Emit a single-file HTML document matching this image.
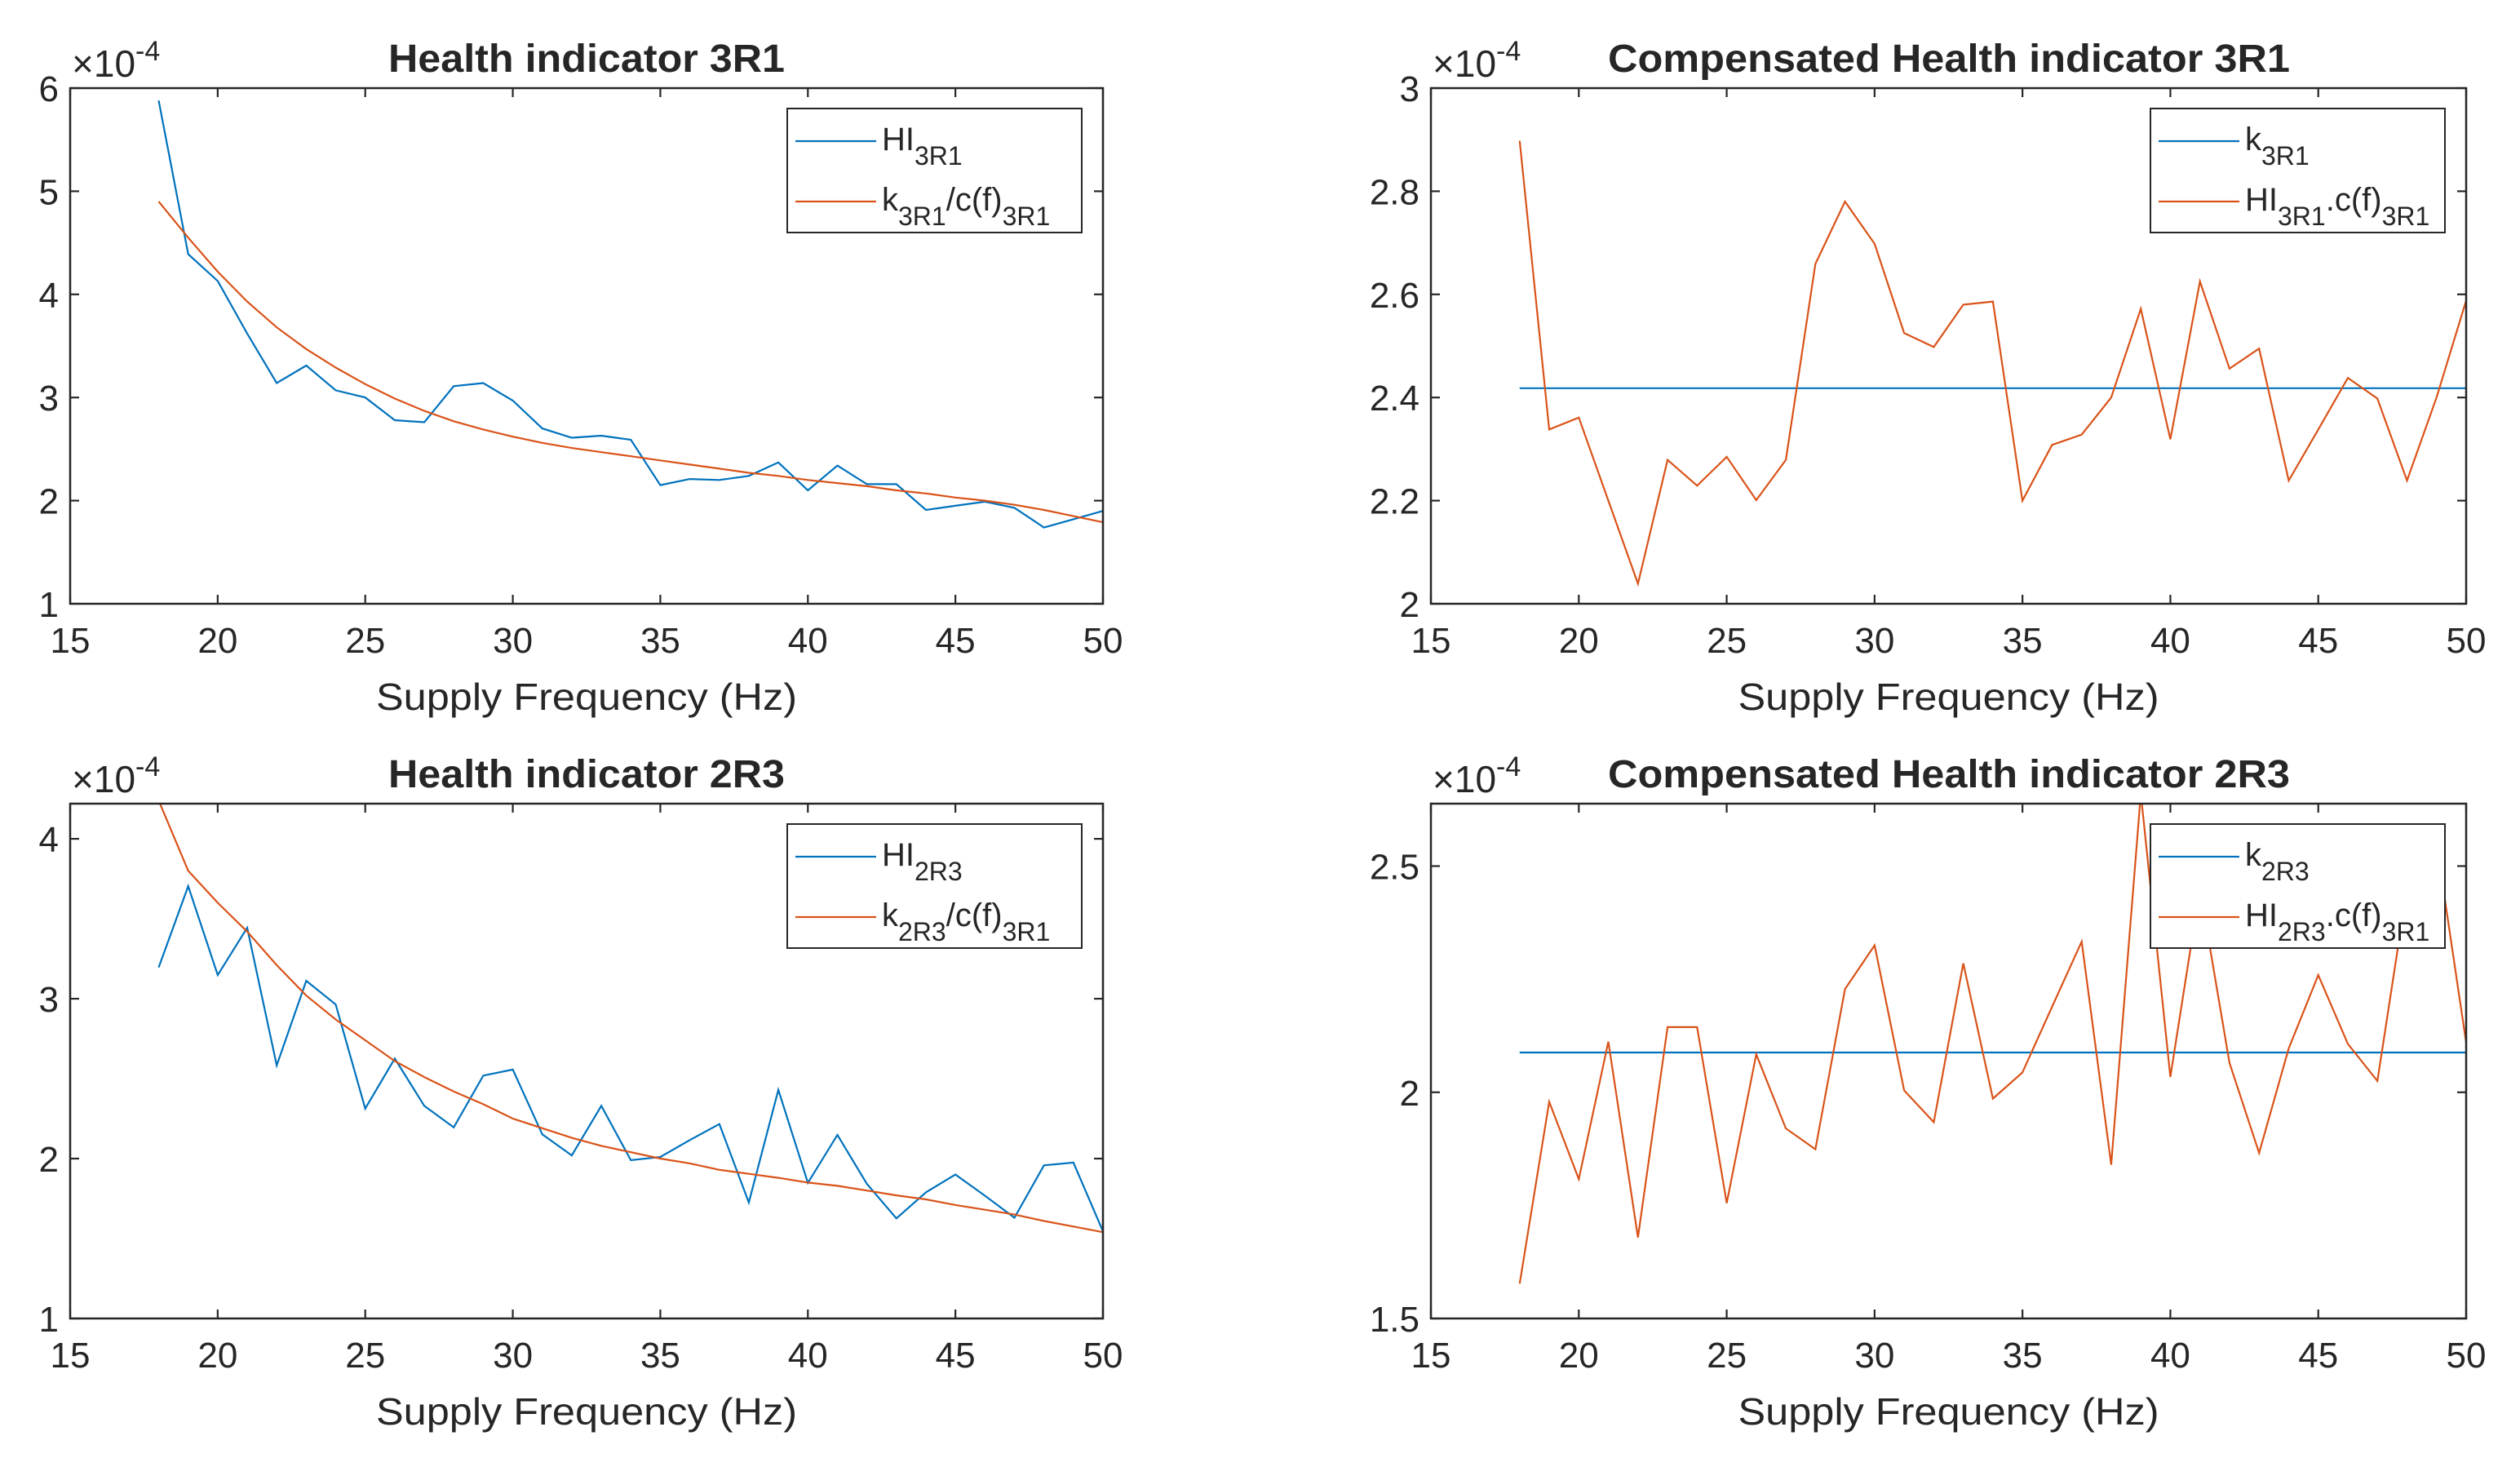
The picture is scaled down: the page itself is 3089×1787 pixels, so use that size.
<!DOCTYPE html>
<html><head><meta charset="utf-8">
<style>
html,body{margin:0;padding:0;background:#fff;}
svg{display:block;}
text{font-family:"Liberation Sans",Arial,sans-serif;fill:#262626;}
</style></head>
<body>
<svg id="fig" width="3089" height="1787" viewBox="0 0 3089 1787" xmlns="http://www.w3.org/2000/svg">
<rect width="3089" height="1787" fill="#fff"/>
</svg>
<script>
const freq = [18,19,20,21,22,23,24,25,26,27,28,29,30,31,32,33,34,35,36,37,38,39,40,41,42,43,44,45,46,47,48,49,50];
const hi3R1 = [5.88,4.39,4.13,3.62,3.14,3.31,3.07,3.0,2.78,2.76,3.11,3.14,2.97,2.70,2.61,2.63,2.59,2.15,2.21,2.20,2.24,2.37,2.10,2.34,2.16,2.16,1.91,1.95,1.99,1.93,1.74,1.82,1.90];
const fit3R1 = [4.90,4.55,4.22,3.93,3.68,3.47,3.29,3.13,2.99,2.87,2.77,2.69,2.62,2.56,2.51,2.47,2.43,2.39,2.35,2.31,2.27,2.24,2.20,2.17,2.14,2.10,2.07,2.03,2.00,1.96,1.91,1.85,1.79];
const k3R1 = 2.418;
const comp3R1 = [2.898,2.338,2.361,2.20,2.039,2.279,2.229,2.285,2.201,2.279,2.659,2.78,2.698,2.525,2.498,2.58,2.586,2.20,2.308,2.328,2.40,2.572,2.319,2.625,2.456,2.495,2.239,2.338,2.438,2.398,2.239,2.40,2.588];
const hi2R3 = [3.196,3.704,3.148,3.444,2.583,3.112,2.964,2.313,2.626,2.33,2.195,2.519,2.557,2.152,2.02,2.33,1.99,2.01,2.116,2.216,1.725,2.43,1.848,2.148,1.842,1.626,1.789,1.90,1.768,1.63,1.958,1.975,1.545];
const fit2R3 = [4.24,3.80,3.60,3.42,3.21,3.02,2.87,2.74,2.61,2.51,2.42,2.34,2.25,2.19,2.13,2.08,2.04,2.00,1.97,1.93,1.905,1.88,1.85,1.83,1.80,1.77,1.745,1.71,1.68,1.65,1.61,1.575,1.54];
const k2R3 = 2.088;
const comp2R3 = [1.577,1.979,1.808,2.112,1.679,2.144,2.144,1.755,2.084,1.92,1.874,2.228,2.325,2.004,1.934,2.285,1.986,2.044,2.189,2.333,1.84,2.66,2.034,2.45,2.065,1.866,2.097,2.259,2.107,2.025,2.45,2.55,2.11];
const xTicks = [15,20,25,30,35,40,45,50];
const yTicksA = [1,2,3,4,5,6];
const yTicksB = [2,2.2,2.4,2.6,2.8,3];
const yTicksC = [1,2,3,4];
const yTicksD = [1.5,2,2.5];

const NS='http://www.w3.org/2000/svg';
const svg=document.getElementById('fig');
const BLUE='#0072BD', ORANGE='#D95319';
function mk(tag,attrs,parent){const e=document.createElementNS(NS,tag);for(const k in attrs)e.setAttribute(k,attrs[k]);(parent||svg).appendChild(e);return e;}

function richText(parent,x,y,parts,size,subSize){
  const t=mk('text',{x:x,y:y,'font-size':size},parent);
  parts.forEach(p=>{
    const ts=mk('tspan',{y:p[1]?y+18:y},t);
    if(p[1]) ts.setAttribute('font-size',subSize);
    ts.textContent=p[0];
  });
  return t;
}

function panel(o){
  const g=mk('g',{});
  
  
  const sx=v=>o.x0+(v-15)/(50-15)*(o.x1-o.x0);
  const sy=v=>o.y1-(v-o.ymin)/(o.ymax-o.ymin)*(o.y1-o.y0);
  const clip='clip-'+o.name;
  const cp=mk('clipPath',{id:clip},g);
  mk('rect',{x:o.x0,y:o.y0,width:o.x1-o.x0,height:o.y1-o.y0},cp);
  o.series.forEach(s=>{
    let d='';
    if(s.constant!==undefined){d='M'+sx(freq[0])+','+sy(s.constant)+'L'+sx(freq[freq.length-1])+','+sy(s.constant);}
    else s.values.forEach((v,i)=>{d+=(i?'L':'M')+sx(freq[i]).toFixed(1)+','+sy(v).toFixed(1);});
    const p=mk('path',{d:d,fill:'none',stroke:s.color,'stroke-width':2.2,'clip-path':'url(#'+clip+')'},g);
    
    
  });
  const box=mk('rect',{x:o.x0,y:o.y0,width:o.x1-o.x0,height:o.y1-o.y0,fill:'none',stroke:'#262626','stroke-width':2.5},g);
  
  
  xTicks.forEach(t=>{
    const x=sx(t);
    mk('line',{x1:x,y1:o.y1,x2:x,y2:o.y1-11,stroke:'#262626','stroke-width':2.2},g);
    mk('line',{x1:x,y1:o.y0,x2:x,y2:o.y0+11,stroke:'#262626','stroke-width':2.2},g);
    const tx=mk('text',{x:x,y:o.y1+60,'font-size':44,'text-anchor':'middle'},g);
    tx.textContent=t;
    
    
  });
  o.yticks.forEach(t=>{
    const y=sy(t);
    mk('line',{x1:o.x0,y1:y,x2:o.x0+11,y2:y,stroke:'#262626','stroke-width':2.2},g);
    mk('line',{x1:o.x1,y1:y,x2:o.x1-11,y2:y,stroke:'#262626','stroke-width':2.2},g);
    const tx=mk('text',{x:o.x0-14,y:y+16,'font-size':44,'text-anchor':'end'},g);
    tx.textContent=String(t);
    
    
  });
  const xl=mk('text',{x:(o.x0+o.x1)/2,y:o.y1+130,'font-size':46,'text-anchor':'middle',textLength:516,lengthAdjust:'spacingAndGlyphs'},g);
  xl.textContent='Supply Frequency (Hz)';
  
  
  const ti=mk('text',{x:o.titleX,y:o.y0-20,'font-size':48,'font-weight':'bold','text-anchor':'middle',fill:'#000',textLength:o.titleW,lengthAdjust:'spacingAndGlyphs'},g);
  ti.textContent=o.title;
  
  
  const ex=mk('text',{x:o.x0+2,y:o.y0-14,'font-size':46},g);
  const e1=mk('tspan',{},ex); e1.textContent='×10';
  const e2=mk('tspan',{y:o.y0-34,'font-size':34},ex); e2.textContent='-4';
  
  
  const lx=o.x1-387, ly=o.y0+25;
  const lg=mk('g',{},g);
  
  
  mk('rect',{x:lx,y:ly,width:361,height:152,fill:'#fff',stroke:'#262626','stroke-width':2},lg);
  o.legend.forEach((L,i)=>{
    const yy=ly+40+i*74;
    mk('line',{x1:lx+10,y1:yy,x2:lx+109,y2:yy,stroke:L.color,'stroke-width':2.2},lg);
    const t=richText(lg,lx+116,yy+11,L.parts,40,32);
    
    
  });
}

panel({name:'panel-hi-3r1',x0:86,x1:1352,y0:108,y1:740,ymin:1,ymax:6,yticks:yTicksA,title:'Health indicator 3R1',titleX:719,titleW:486,
  series:[{name:'hi-3r1-line',color:BLUE,values:hi3R1},{name:'fit-3r1-line',color:ORANGE,values:fit3R1}],
  legend:[{color:BLUE,parts:[['HI',0],['3R1',1]]},{color:ORANGE,parts:[['k',0],['3R1',1],['/c(f)',0],['3R1',1]]}]});
panel({name:'panel-comp-3r1',x0:1754,x1:3023,y0:108,y1:740,ymin:2,ymax:3,yticks:yTicksB,title:'Compensated Health indicator 3R1',titleX:2389,titleW:836,
  series:[{name:'k-3r1-line',color:BLUE,constant:k3R1},{name:'comp-3r1-line',color:ORANGE,values:comp3R1}],
  legend:[{color:BLUE,parts:[['k',0],['3R1',1]]},{color:ORANGE,parts:[['HI',0],['3R1',1],['.c(f)',0],['3R1',1]]}]});
panel({name:'panel-hi-2r3',x0:86,x1:1352,y0:985,y1:1616,ymin:1,ymax:4.22,yticks:yTicksC,title:'Health indicator 2R3',titleX:719,titleW:486,
  series:[{name:'hi-2r3-line',color:BLUE,values:hi2R3},{name:'fit-2r3-line',color:ORANGE,values:fit2R3}],
  legend:[{color:BLUE,parts:[['HI',0],['2R3',1]]},{color:ORANGE,parts:[['k',0],['2R3',1],['/c(f)',0],['3R1',1]]}]});
panel({name:'panel-comp-2r3',x0:1754,x1:3023,y0:985,y1:1616,ymin:1.5,ymax:2.638,yticks:yTicksD,title:'Compensated Health indicator 2R3',titleX:2389,titleW:836,
  series:[{name:'k-2r3-line',color:BLUE,constant:k2R3},{name:'comp-2r3-line',color:ORANGE,values:comp2R3}],
  legend:[{color:BLUE,parts:[['k',0],['2R3',1]]},{color:ORANGE,parts:[['HI',0],['2R3',1],['.c(f)',0],['3R1',1]]}]});
</script>
</body></html>
